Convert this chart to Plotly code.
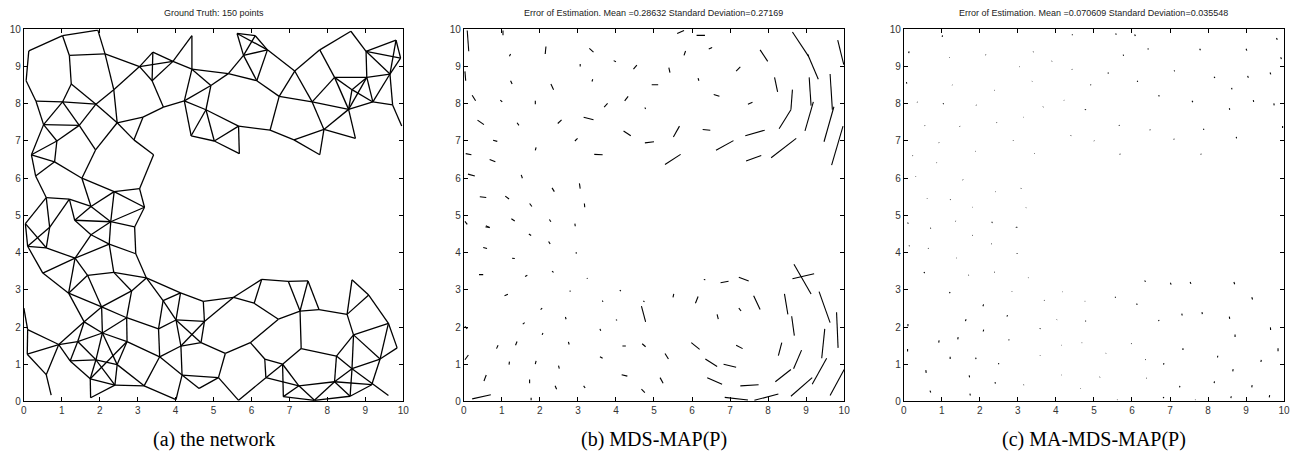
import plotly.graph_objects as go

# ---------------- Panel (a): network nodes (true positions) ----------------
node_names = [
 "A1","A2","A3","A4","A5","A6","A7","A8","A9","A10","A11","A12","A13","A14","A15","A16","A17","A18","A19","A20",
 "A21","A22","A23","A24","A25","A26","A27","A28","A29","A30","A31","A32","A33","A34","A35","A36","A37","A38","A39","A40",
 "A41","A42","A43","A44","A45","A46",
 "B1","B2","B3","B4","B5","B6","B7","B8","B9","B10","B11","B12","B13","B14","B15","B16","B17","B18","B19","B20",
 "B21","B22","B23","B24","B25","B26","B27","B28","B29",
 "C3","C4","C5","C6","C7","C8","C9","C10","C11","C12","C13","C14","C15","C16","C17","C18","C19","C20","C21","C22",
 "C23","C24","C25","C26","C27","C28","C29","C30","C31","C32","C33","C34","C35","C36","C37","C38","C39","C41","C42","C43",
 "C44","C45","C46",
 "D1","D2","D3","D4","D5","D6","D7","D8","D9","D10","D11","D12","D13","D14","D15","D16","D17","D18","D19","D20",
 "D21","D22","D23","D24","D25","D26","D27","D28","D29","D30","D31","D32"]
node_x = [
 0.13,1.02,1.95,1.20,2.14,0.06,1.25,0.32,1.02,1.90,2.37,0.52,1.46,2.46,3.14,2.90,0.87,0.20,0.81,0.31,
 1.89,3.42,1.53,2.38,3.05,3.18,0.59,1.20,1.77,0.04,0.68,1.34,2.29,2.92,3.05,3.40,3.38,3.93,4.43,3.68,
 4.43,4.23,4.93,4.41,4.80,5.02,
 5.62,6.10,5.79,6.42,5.39,6.14,5.66,5.68,6.49,6.73,7.14,7.12,7.80,7.60,7.91,7.80,8.62,8.19,8.65,9.02,
 9.04,8.56,8.74,9.20,9.65,9.81,9.93,9.72,9.96,
 0.10,0.59,1.77,2.25,2.95,1.35,0.50,1.68,2.37,3.23,1.18,2.84,2.05,3.67,4.13,4.73,0.00,0.10,1.59,2.71,
 3.55,4.01,4.76,0.92,1.42,2.07,2.72,4.14,4.67,0.09,1.22,1.90,2.46,3.58,0.59,1.75,4.17,2.40,3.17,4.62,
 0.72,1.76,4.01,
 5.53,6.07,6.27,6.97,7.49,7.28,7.78,6.71,8.52,8.65,9.09,9.61,9.84,8.69,5.97,5.31,7.31,8.24,9.39,6.35,
 6.82,8.65,5.13,6.38,7.25,8.19,9.17,9.61,5.66,6.84,7.66,8.60]
node_y = [
 9.42,9.83,9.98,9.30,9.34,8.62,8.53,8.07,8.05,7.99,8.38,7.44,7.42,7.49,7.64,7.03,7.00,6.63,6.44,6.06,
 6.76,6.63,6.00,5.64,5.72,5.22,5.48,5.44,5.24,4.78,4.68,4.87,4.83,4.69,9.00,9.39,8.62,9.14,9.83,7.91,
 8.93,8.08,8.49,7.14,7.84,7.00,
 9.89,9.83,9.30,9.45,8.81,8.62,7.40,6.66,7.29,8.20,8.88,7.03,9.45,8.05,7.31,6.63,9.95,8.71,8.38,9.41,
 8.71,7.85,7.07,8.05,8.80,9.71,9.23,7.97,7.40,
 4.17,4.13,4.48,4.23,3.97,3.85,3.45,3.39,3.47,3.32,2.91,2.97,2.54,2.71,2.92,2.69,2.51,1.93,2.14,2.25,
 1.95,2.19,2.15,1.53,1.61,1.84,1.61,1.49,1.58,1.27,1.09,1.12,0.99,1.20,0.72,0.61,0.71,0.44,0.42,0.35,
 0.17,0.10,0.05,
 2.80,2.64,3.28,3.23,3.24,2.43,2.47,2.21,2.34,3.27,2.86,2.10,1.44,1.79,1.58,1.29,1.42,1.22,1.14,1.14,
 1.00,0.88,0.64,0.64,0.42,0.53,0.45,0.16,0.03,0.13,0.03,0.14]

edge_from = [
 "A1","A1","A2","A2","A4","A3","A4","A5","A11","A5","A6","A7","A7","A8","A9","A8","A9","A9","A12","A10",
 "A10","A10","A11","A12","A12","A13","A13","A14","A14","A14","A15","A15","A40","A16","A17","A17","A18","A19","A18","A19",
 "A20","A21","A23","A23","A24","A25","A24","A22","A24","A24","A27","A28","A27","A27","A28","A28","A29","A29","A26","A26",
 "A32","A33","A35","A35","A36","A36","A38","A37","A38","A35","A37","A39","A41","A41","A41","A42","A43","A43","A42","A45",
 "A42","A44","A44","A45","A46","A46","B7",
 "B1","B1","B1","B2","B2","B3","B3","B3","B4","B4","B5","B6","B10","B10","B10","B7","B9","B11","B11","B13",
 "B13","B14","B14","B14","B12","B15","B12","B15","B15","B22","B17","B18","B18","B18","B19","B19","B19","B20","B20","B20",
 "B20","B21","B21","B21","B22","B24","B25","B25","B24","B26","B26","B28",
 "A30","A30","A31","A31","C3","C3","C4","C8","A32","A33","C5","A33","A34","C6","C5","C6","C8","C8","C6","C10",
 "C7","C11","C9","C10","C10","C13","C15","C22","C13","C14","C11","C12","C12","C12","C14","C15","C15","C16","C16","C16",
 "C17","C17","C18","C18","C24","C24","C24","C25","C25","C23","C22","C22","C21","C21","C21","C27","C28","C28","C28","C29",
 "C29","C29","C23","C36","C36","C36","C30","C30","C31","C31","C39","C39","C39","C43","C46","C35","C41","C35","C34","C34",
 "C34","C38","C38","C45","C33","C27","C27","C26","C26","C26","C26","C26","C33","C19","C20","C32","C37",
 "D1","D1","D2","D2","D3","D4","D4","D5","D5","D8","D6","D7","D6","D9","D10","D9","D11","D12","D9","D14",
 "D12","D13","D14","D14","D14","D22","D8","D15","D15","D16","D17","D17","D18","D18","D19","D22","D22","D19","D20","D20",
 "D21","D21","D21","D24","D25","D26","D24","D23","D25","D30","D25","D26","D26","D31","D27"]
edge_to = [
 "A2","A6","A3","A4","A5","A5","A7","A11","A14","A35","A8","A9","A10","A9","A10","A12","A12","A13","A13","A13",
 "A14","A11","A35","A17","A18","A17","A21","A21","A16","A15","A16","A40","A42","A22","A18","A19","A19","A23","A20","A20",
 "A27","A23","A24","A29","A25","A26","A26","A25","A29","A33","A28","A29","A30","A31","A32","A31","A32","A33","A33","A34",
 "A33","A34","A36","A38","A37","A38","A41","A38","A39","A37","A40","A41","A43","A42","B5","A43","B5","A45","A45","A46",
 "A44","A46","A45","B7","B7","B8","B8",
 "B2","B3","B4","B3","B4","B4","B5","B6","B6","B11","B6","B10","B11","B14","B9","B9","B12","B13","B14","B17",
 "B18","B18","B15","B22","B15","B16","B16","B22","B23","B23","B20","B21","B19","B22","B21","B22","B24","B21","B26","B27",
 "B25","B22","B24","B25","B24","B25","B27","B28","B28","B27","B25","B29",
 "C3","C4","C3","C4","C4","C9","C8","C9","C5","C5","C6","C6","C7","C7","C8","C8","C10","C13","C11","C11",
 "C12","C12","C13","C13","C15","C15","C22","C23","C21","C15","C14","C14","C16","C17","C22","C21","C28","C17","C23","C24",
 "C24","C18","C25","D1","C25","C30","C31","C30","D1","C24","C28","C29","C26","C27","C28","C28","C34","C35","C29","C36",
 "C35","C38","C36","C30","C42","C39","C39","C31","C25","D16","C43","C46","D23","D23","C42","C42","C42","C41","C35","C38",
 "C41","C41","C45","C41","C34","C33","C34","C27","C33","C32","C20","C37","C38","C20","C32","C37","C44",
 "D2","D3","D3","D8","D4","D5","D6","D6","D7","D6","D7","D9","D17","D10","D11","D11","D12","D13","D14","D12",
 "D19","D19","D19","D18","D22","D32","D15","D16","D20","D23","D18","D21","D26","D22","D22","D26","D28","D27","D21","D24",
 "D24","D30","D25","D25","D26","D27","D29","D29","D30","D31","D31","D31","D32","D32","D32"]

# ---------------- Panel (b): MDS-MAP(P) true -> estimated ----------------
b_x0 = [0.09,1.03,2.16,1.23,3.30,3.94,4.55,3.06,0.03,1.23,2.29,3.39,0.22,0.96,1.88,4.32,3.78,4.76,2.57,0.36,
        1.40,3.15,4.20,4.76,0.77,2.92,1.90,0.05,0.68,3.43,0.11,1.51,2.32,3.04,0.42,1.09,1.73,3.17,1.25,2.25,
        2.92,0.57,0.03,
        5.61,6.12,5.79,6.44,7.79,8.64,9.04,9.83,5.39,6.16,7.16,4.94,8.17,8.64,9.08,9.63,6.57,7.47,8.60,9.19,
        9.73,9.97,5.67,6.28,7.40,6.63,5.70,7.42,8.08,
        0.58,1.71,2.23,0.51,1.27,2.95,0.40,1.61,2.32,3.24,1.07,2.78,4.10,3.64,4.72,2.02,2.69,4.67,4.00,1.55,
        3.58,0.03,2.06,1.36,0.86,2.75,4.17,4.69,0.03,1.19,1.88,3.58,2.49,0.53,1.73,4.15,2.40,3.15,4.67,0.22,
        1.77,
        6.31,6.75,7.23,5.52,6.16,7.62,7.23,6.66,8.43,8.62,8.68,8.64,9.34,9.80,9.49,5.98,7.16,8.36,8.88,5.29,
        6.35,6.83,9.54,10.0,5.16,6.40,7.27,8.19,8.60,6.86,7.64]
b_y0 = [9.97,9.97,9.54,9.34,9.49,9.16,9.04,9.07,8.87,8.62,8.53,8.66,8.23,8.10,8.08,8.20,8.01,7.90,7.57,7.56,
        7.49,7.64,7.27,6.95,7.02,7.00,6.83,6.66,6.50,6.64,6.11,6.09,5.74,5.86,5.50,5.52,5.32,5.32,4.91,4.89,
        4.78,4.69,4.84,
        9.89,9.84,9.30,9.47,9.45,9.93,9.33,9.71,8.97,8.69,8.88,8.51,8.71,8.38,8.71,8.80,8.25,7.99,7.84,8.05,
        7.92,7.40,7.40,7.31,7.14,6.75,6.64,6.46,6.55,
        4.72,4.50,4.30,4.14,3.85,4.01,3.41,3.36,3.50,3.32,2.84,2.97,2.99,2.71,2.70,2.47,2.21,2.56,2.20,2.08,
        1.95,2.02,1.79,1.51,1.42,1.60,1.49,1.55,1.12,0.99,1.00,1.20,0.96,0.55,0.59,0.72,0.42,0.42,0.33,0.07,
        0.10,
        3.28,3.19,3.34,2.89,2.82,2.84,2.51,2.34,2.89,2.29,3.69,3.30,2.95,2.40,1.95,1.58,1.51,1.58,1.38,1.29,
        1.14,1.00,1.16,0.86,0.64,0.64,0.42,0.53,0.14,0.11,0.03]
b_x1 = [0.13,1.03,2.14,1.20,3.41,4.00,4.46,3.06,0.05,1.27,2.36,3.37,0.31,1.01,1.88,4.23,3.69,4.78,2.47,0.53,
        1.45,3.41,4.39,5.00,0.88,2.99,1.88,0.20,0.83,3.65,0.29,1.54,2.38,3.06,0.59,1.19,1.79,3.18,1.34,2.29,
        2.93,0.68,0.09,
        5.79,6.34,5.83,6.53,7.99,9.06,9.32,9.99,5.42,6.18,7.27,5.11,8.25,8.60,9.13,9.69,6.72,7.59,8.29,8.97,
        9.47,9.67,5.51,6.48,7.91,7.09,5.29,7.82,8.74,
        0.68,1.77,2.27,0.61,1.34,2.96,0.51,1.67,2.36,3.25,1.16,2.81,4.13,3.66,4.75,2.06,2.67,4.78,4.03,1.60,
        3.60,0.09,2.08,1.40,0.90,2.77,4.26,4.78,0.12,1.20,1.90,3.65,2.51,0.59,1.73,4.30,2.44,3.19,4.76,0.71,
        1.77,
        6.35,6.96,7.49,5.50,6.09,7.79,7.29,6.69,8.52,8.69,9.13,9.21,9.63,9.84,9.41,6.20,7.33,8.27,8.67,5.38,
        6.66,7.16,9.16,9.63,5.24,6.79,7.75,8.60,9.16,7.47,8.27]
b_y1 = [9.41,9.84,9.34,9.28,9.39,9.13,8.93,9.00,8.62,8.53,8.38,8.60,8.08,8.05,7.99,8.08,7.91,7.86,7.47,7.44,
        7.42,7.57,7.14,6.98,6.99,7.07,6.75,6.63,6.44,6.63,6.06,6.00,5.64,5.72,5.48,5.44,5.24,5.22,4.85,4.83,
        4.71,4.68,4.76,
        9.97,9.84,9.42,9.51,9.14,9.28,8.66,9.05,8.84,8.62,8.99,8.51,8.32,7.84,7.95,7.84,8.20,8.04,7.33,7.27,
        6.98,6.35,7.11,7.29,7.29,7.01,6.37,6.61,7.07,
        4.67,4.46,4.23,4.11,3.84,3.97,3.41,3.39,3.47,3.30,2.88,2.96,2.97,2.68,2.68,2.51,2.27,2.14,2.18,2.12,
        1.90,1.95,1.84,1.61,1.51,1.53,1.49,1.47,1.25,1.07,1.09,1.16,0.88,0.71,0.49,0.68,0.33,0.36,0.24,0.18,
        0.03,
        3.27,3.23,3.24,2.80,2.64,2.47,2.43,2.21,2.34,1.77,2.89,3.43,2.12,1.44,1.16,1.40,1.42,1.23,0.88,1.14,
        0.94,0.92,0.46,0.16,0.49,0.46,0.45,0.86,0.64,0.04,0.20]

# ---------------- Panel (c): MA-MDS-MAP(P) true position and error ----------------
c_x = [1.01,0.13,1.20,2.15,3.40,3.04,3.89,4.42,4.42,0.07,1.27,2.38,3.37,0.35,1.03,1.90,3.66,4.21,4.76,0.55,
       1.47,2.44,3.15,0.92,2.88,4.39,1.88,3.43,0.23,0.86,0.31,1.55,2.41,3.08,0.61,1.22,1.80,3.21,0.09,1.36,
       2.32,2.95,
       5.57,6.07,6.42,5.77,7.78,9.00,9.80,9.91,5.37,6.14,7.11,8.16,9.04,9.63,4.91,6.70,7.58,8.62,9.19,9.73,
       8.56,4.78,5.66,6.47,7.88,8.74,9.96,5.00,7.10,5.68,7.81,
       0.11,0.70,2.32,2.97,0.14,0.64,1.80,2.30,2.98,1.38,0.53,1.70,2.38,3.27,1.20,2.84,4.17,3.69,4.76,2.08,
       0.11,1.62,2.71,3.58,4.02,4.78,0.92,1.42,2.09,2.76,4.15,4.68,0.10,1.22,1.90,2.50,3.58,0.59,1.73,4.15,
       2.41,3.15,4.65,0.71,1.75,
       6.33,7.01,7.53,8.68,5.55,6.12,9.15,6.70,7.31,7.84,8.56,9.64,4.78,5.98,8.71,7.34,9.84,5.31,6.35,6.83,
       8.25,9.39,5.15,6.38,8.65,7.25,8.16,9.15,6.82,8.60,9.61,7.66,5.61]
c_y = [9.80,9.36,9.25,9.32,9.39,9.00,9.14,9.86,8.93,8.58,8.51,8.36,8.60,8.05,8.01,7.97,7.91,8.10,7.85,7.42,
       7.40,7.49,7.64,6.96,7.01,7.14,6.72,6.66,6.61,6.42,6.05,5.96,5.63,5.72,5.46,5.43,5.22,5.20,4.80,4.85,
       4.80,4.69,
       9.89,9.86,9.49,9.32,9.48,9.48,9.77,9.25,8.84,8.62,8.90,8.73,8.75,8.84,8.52,8.23,8.08,8.43,8.10,8.01,
       7.88,7.85,7.43,7.31,7.33,7.11,7.40,7.01,7.06,6.66,6.66,
       4.78,4.67,4.81,4.69,4.17,4.11,4.46,4.23,3.97,3.85,3.45,3.39,3.47,3.32,2.91,2.95,2.95,2.71,2.69,2.56,
       2.02,2.16,2.28,1.95,2.19,2.15,1.58,1.67,1.88,1.64,1.51,1.58,1.34,1.14,1.14,1.00,1.23,0.77,0.65,0.71,
       0.48,0.44,0.35,0.24,0.16,
       3.25,3.19,3.21,3.21,2.80,2.63,2.80,2.19,2.36,2.40,2.28,1.99,2.16,1.55,1.73,1.38,1.35,1.29,1.12,0.99,
       1.18,1.06,0.65,0.62,0.81,0.38,0.49,0.38,0.09,0.09,0.11,0.04,0.04]
c_dx = [0.01,0.01,0.01,0.01,0.01,0.01,0.01,0.02,0.01,0.01,0.01,0.01,0.01,0.01,0.02,0.01,0.01,0.01,0.02,0.01,
        0.01,0.01,0.01,0.01,0.00,0.01,0.01,0.01,0.01,0.01,0.01,0.01,0.01,0.01,0.01,0.01,0.01,0.01,0.01,0.01,
        0.01,0.01,
        0.02,0.02,0.01,0.01,0.02,0.02,0.02,0.02,0.01,0.01,0.01,0.02,0.02,0.02,0.01,0.02,0.02,0.01,0.01,0.01,
        0.01,0.01,0.01,0.01,0.01,0.01,0.00,0.01,0.01,0.01,0.01,
        0.01,0.01,0.00,0.01,0.01,0.01,0.01,0.01,0.00,0.01,0.02,0.01,0.01,0.01,0.02,0.01,0.01,0.01,0.01,0.02,
        0.00,0.02,0.02,0.01,0.01,0.01,0.01,0.01,0.01,0.01,0.01,0.01,0.00,0.00,-0.01,-0.01,0.01,-0.01,-0.01,0.01,
        -0.01,0.01,0.01,-0.02,-0.01,
        0.03,0.02,0.02,0.02,0.03,0.02,0.02,0.01,0.01,0.01,0.01,0.005,0.01,0.01,0.00,0.00,0.00,0.01,0.01,0.01,
        0.005,0.01,0.01,0.01,0.01,0.01,0.01,0.01,0.02,0.01,0.01,0.01,0.01]
c_dy = [0.04,0.05,-0.01,-0.01,0.01,-0.01,0.01,-0.01,-0.01,-0.04,-0.01,0.01,0.01,-0.01,-0.02,-0.01,0.01,-0.01,-0.01,-0.01,
        -0.01,0.01,0.00,-0.01,0.01,0.01,0.01,0.01,-0.01,-0.01,-0.01,-0.01,0.01,0.01,-0.01,-0.01,0.00,0.01,-0.01,-0.01,
        0.01,-0.01,
        -0.03,-0.04,-0.03,-0.03,-0.04,-0.05,-0.05,-0.05,-0.03,-0.03,-0.03,-0.04,-0.05,-0.05,-0.02,-0.03,-0.04,-0.04,-0.05,-0.05,
        -0.04,-0.01,-0.02,-0.02,-0.03,-0.04,-0.05,-0.01,-0.02,-0.02,-0.02,
        0.02,-0.02,0.02,-0.02,0.02,0.01,0.01,0.01,0.02,0.01,0.03,0.01,0.01,0.01,0.03,0.01,0.00,0.01,0.00,0.05,
        0.06,0.05,0.04,0.02,0.01,0.00,0.06,0.06,0.05,0.03,0.00,0.00,0.07,0.06,0.04,0.03,0.01,0.07,0.05,0.00,
        0.04,0.01,0.00,0.05,0.05,
        -0.03,-0.05,-0.05,-0.06,0.00,-0.03,-0.06,-0.03,-0.05,-0.05,-0.06,-0.07,0.01,0.01,0.07,0.05,0.08,0.01,0.01,0.04,
        0.05,0.06,0.01,0.01,0.06,0.04,0.05,0.06,0.03,0.05,0.06,0.01,0.01]

titles = ["Ground Truth: 150 points",
          "Error of Estimation. Mean =0.28632 Standard Deviation=0.27169",
          "Error of Estimation. Mean =0.070609 Standard Deviation=0.035548"]
captions = ["(a) the network", "(b) MDS-MAP(P)", "(c) MA-MDS-MAP(P)"]
tick_vals = list(range(0, 11))
tick_text = [str(v) for v in tick_vals]

W, H = 1307, 462
panel_px = [(21, 403), (464, 847), (907, 1290)]
top_px, bot_px = 24, 406

# ---------------- build traces ----------------
idx = {n: i for i, n in enumerate(node_names)}
ex, ey = [], []
for a, b in zip(edge_from, edge_to):
    ex += [node_x[idx[a]], node_x[idx[b]], None]
    ey += [node_y[idx[a]], node_y[idx[b]], None]

bx, by = [], []
for x0, y0, x1, y1 in zip(b_x0, b_y0, b_x1, b_y1):
    bx += [x0, x1, None]
    by += [y0, y1, None]

cx, cy = [], []
for x0, y0, dx, dy in zip(c_x, c_y, c_dx, c_dy):
    cx += [x0, x0 + dx, None]
    cy += [y0, y0 + dy, None]

fig = go.Figure()
fig.add_trace(go.Scatter(x=ex, y=ey, mode="lines", line=dict(color="black", width=1.3),
                         xaxis="x", yaxis="y", hoverinfo="skip", showlegend=False))
fig.add_trace(go.Scatter(x=bx, y=by, mode="lines", line=dict(color="black", width=1.1),
                         xaxis="x2", yaxis="y2", hoverinfo="skip", showlegend=False))
fig.add_trace(go.Scatter(x=cx, y=cy, mode="lines", line=dict(color="black", width=1.1),
                         xaxis="x3", yaxis="y3", hoverinfo="skip", showlegend=False))

ydom = [(H - bot_px) / H, (H - top_px) / H]
axis_common = dict(range=[0, 10], tickvals=tick_vals, ticktext=tick_text, ticks="inside", ticklen=4,
                   tickcolor="black", showline=True, linecolor="black", linewidth=1, mirror="allticks",
                   showgrid=False, zeroline=False, fixedrange=True,
                   tickfont=dict(family="Liberation Sans, Arial", size=10, color="#333333"))
layout = dict(width=W, height=H, margin=dict(l=0, r=0, t=0, b=0),
              paper_bgcolor="white", plot_bgcolor="white", showlegend=False)
annotations = []
for i, (l, r) in enumerate(panel_px):
    s = "" if i == 0 else str(i + 1)
    layout["xaxis" + s] = dict(domain=[l / W, r / W], anchor="y" + s, **axis_common)
    layout["yaxis" + s] = dict(domain=ydom, anchor="x" + s, **axis_common)
    cxp = (l + r) / 2 / W
    annotations.append(dict(x=cxp, y=(H - 7) / H, xref="paper", yref="paper", text=titles[i],
                            showarrow=False, xanchor="center", yanchor="middle",
                            font=dict(family="Liberation Sans, Arial", size=9, color="#222222")))
    annotations.append(dict(x=cxp, y=(H - 445) / H, xref="paper", yref="paper", text=captions[i],
                            showarrow=False, xanchor="center", yanchor="middle",
                            font=dict(family="Liberation Serif, Times New Roman", size=20, color="black")))
layout["annotations"] = annotations
fig.update_layout(**layout)
fig.write_html("out.html")
